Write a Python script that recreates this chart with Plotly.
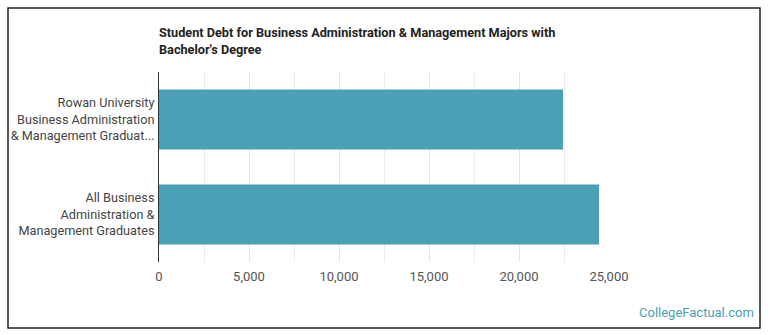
import plotly.graph_objects as go

categories = ["Rowan University<br>Business Administration<br>& Management Graduat...",
              "All Business<br>Administration &<br>Management Graduates"]
values = [22450, 24450]
tick_vals = [0, 5000, 10000, 15000, 20000, 25000]
tick_text = ["0", "5,000", "10,000", "15,000", "20,000", "25,000"]
title = "Student Debt for Business Administration & Management Majors with<br>Bachelor's Degree"

W, H = 770, 335
L, R, T, B = 159, 161, 72, 73
pw, ph = W - L - R, H - T - B

fig = go.Figure(go.Bar(
    x=values, y=categories, orientation="h",
    marker=dict(color="#4aa0b4", line=dict(width=0)),
    hoverinfo="x+y",
))

def px_x(p):
    return (p - L) / pw

def px_y(p):
    return 1 - (p - T) / ph

fig.update_layout(
    width=W, height=H,
    margin=dict(l=L, r=R, t=T, b=B, pad=0),
    paper_bgcolor="white", plot_bgcolor="white",
    font=dict(family="Roboto, Arial, sans-serif", size=13, color="#444"),
    bargap=0.37,
    showlegend=False,
    title=dict(text="<b>" + title + "</b>", x=159 / W, xanchor="left",
               y=1 - 37 / H, yanchor="top",
               font=dict(family="Roboto, Arial, sans-serif", size=12.7, color="#222")),
    xaxis=dict(range=[0, 25000], tickvals=tick_vals, ticktext=tick_text,
               showgrid=True, gridcolor="#e3e3e3", gridwidth=1,
               minor=dict(dtick=2500, showgrid=True, gridcolor="#ececec", tick0=0),
               zeroline=False, showline=False, ticks="", automargin=False,
               tickfont=dict(size=13, color="#555"), ticklabelstandoff=5),
    yaxis=dict(autorange="reversed", showline=True, linecolor="#333", linewidth=1,
               ticks="", showgrid=False, ticklabelstandoff=1, automargin=False,
               tickfont=dict(size=12.7, color="#444")),
    shapes=[dict(type="rect", xref="paper", yref="paper",
                 x0=px_x(8), x1=px_x(760), y0=px_y(328), y1=px_y(8),
                 line=dict(color="#222", width=1.5), fillcolor="rgba(0,0,0,0)",
                 layer="above")],
    annotations=[dict(text="CollegeFactual.com", xref="paper", yref="paper",
                      x=px_x(756), y=px_y(312), xanchor="right", yanchor="middle",
                      showarrow=False,
                      font=dict(family="Roboto, Arial, sans-serif", size=13, color="#4aa0b4"))],
)

fig.write_html("out.html")
